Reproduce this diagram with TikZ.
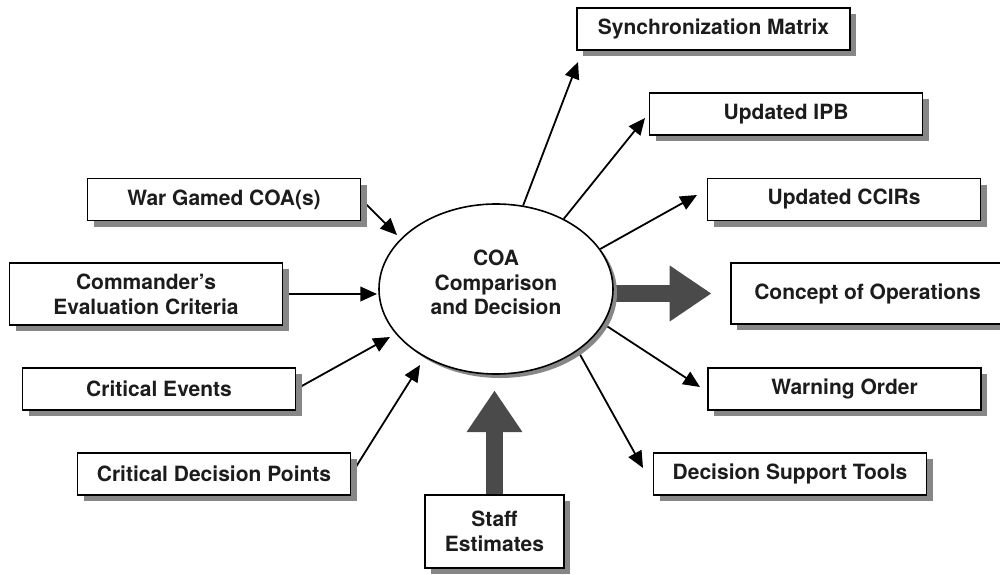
\documentclass[tikz,border=0pt]{standalone}
\usepackage{fontspec}
\setmainfont{TeX Gyre Heros}
\usetikzlibrary{shapes.geometric,arrows.meta,shadows,backgrounds}
\definecolor{shgray}{HTML}{878787}
\definecolor{bigdark}{HTML}{4A4A4A}
\definecolor{txt}{HTML}{1C1C1C}
\newcommand\boxfont{\fontsize{15.75pt}{18.6pt}\selectfont\bfseries}
\tikzset{
  box/.style={draw=black, line width=1.4pt, fill=white, text=txt,
    minimum width=204.75pt, minimum height=31.5pt, inner sep=0pt,
    align=center, font=\boxfont,
    drop shadow={shadow xshift=4.5pt, shadow yshift=-4.5pt, fill=shgray, opacity=1}},
  ellnode/.style={ellipse, draw=black, line width=1.2pt, fill=white,
    minimum width=175.5pt, minimum height=127.5pt, inner sep=0pt,
    drop shadow={shadow xshift=3pt, shadow yshift=-3pt, fill=shgray, opacity=1}},
  thinarrow/.style={draw=black, line width=1.35pt, -{Triangle[length=12.5pt,width=11pt]}},
  bigarrow/.style={draw=bigdark, line width=12.75pt,
    -{Triangle[length=31pt,width=42pt,line width=0pt]}},
}
\begin{document}
\begin{tikzpicture}[x=0.75pt,y=-0.75pt]
\useasboundingbox (0,0) rectangle (1000,575);
% nodes
\node[box] (sync) at (713.5,29) {Synchronization Matrix};
\node[box] (ipb) at (786,114) {Updated IPB};
\node[box] (ccirs) at (844,199.5) {Updated CCIRs};
\node[box, minimum height=45.75pt] (conops) at (867.5,293.5) {Concept of Operations};
\node[box] (warn) at (844.5,389) {Warning Order};
\node[box] (dst) at (790,474) {Decision Support Tools};
\node[box] (wg) at (224,199.5) {War Gamed COA(s)};
\node[box, minimum height=46.5pt] (cmd) at (146,294) {Commander's\\Evaluation Criteria};
\node[box] (ce) at (159,389) {Critical Events};
\node[box] (cdp) at (214,474) {Critical Decision Points};
\node[box, minimum width=104.25pt, minimum height=54.75pt] (staff) at (494.5,531.5) {Staff\\Estimates};
\node[ellnode, label={[font=\boxfont, text=txt, align=center, yshift=5pt]center:COA\\Comparison\\and Decision}] (ell) at (496,289) {};
% tip coordinates
\coordinate (tWG) at (397,235);
\coordinate (tCMD) at (377,294);
\coordinate (tCE) at (390,337);
\coordinate (tCDP) at (420,365);
\coordinate (tSYNC) at (578,62);
\coordinate (tIPB) at (645,118);
\coordinate (tCCIR) at (697,195);
\coordinate (tWARN) at (700,387);
\coordinate (tDST) at (643,468);
\begin{scope}[on background layer]
\fill[white] (0,0) rectangle (1000,575);
\draw[thinarrow] (wg.east) -- (tWG);
\draw[thinarrow] (cmd.east) -- (tCMD);
\draw[thinarrow] (ce.east) -- (tCE);
\draw[thinarrow] (cdp.east) -- (tCDP);
\draw[thinarrow] (ell.72) -- (tSYNC);
\draw[thinarrow] (ell.46) -- (tIPB);
\draw[thinarrow] (ell.21.5) -- (tCCIR);
\draw[thinarrow] (ell.-18) -- (tWARN);
\draw[thinarrow] (ell.-37.5) -- (tDST);
\draw[bigarrow, shorten >=14.25pt] (ell.east |- conops.west) -- (conops.west);
\draw[bigarrow, shorten >=12pt] (staff.north) -- (staff.north |- ell.south);
\end{scope}
\end{tikzpicture}
\end{document}
